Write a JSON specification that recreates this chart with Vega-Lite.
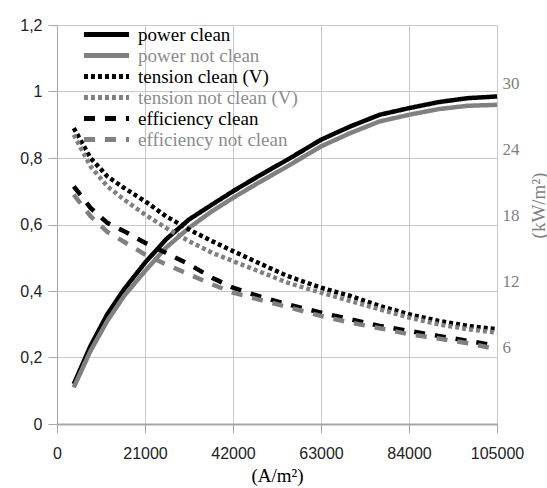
{
  "$schema": "https://vega.github.io/schema/vega-lite/v6.json",
  "width": 440,
  "height": 399,
  "autosize": {"type": "none"},
  "padding": {"left": 57, "top": 25, "right": 50, "bottom": 64},
  "background": "white",
  "config": {"view": {"stroke": null}},
  "layer": [
    {
      "data": {"values": [
        {"x": 4000, "series": "power clean", "y": 0.12},
        {"x": 8000, "series": "power clean", "y": 0.235},
        {"x": 12000, "series": "power clean", "y": 0.33},
        {"x": 16000, "series": "power clean", "y": 0.405},
        {"x": 21000, "series": "power clean", "y": 0.485},
        {"x": 26000, "series": "power clean", "y": 0.555},
        {"x": 31500, "series": "power clean", "y": 0.615},
        {"x": 37000, "series": "power clean", "y": 0.66},
        {"x": 42000, "series": "power clean", "y": 0.7},
        {"x": 48000, "series": "power clean", "y": 0.745},
        {"x": 55000, "series": "power clean", "y": 0.795},
        {"x": 63000, "series": "power clean", "y": 0.855},
        {"x": 70000, "series": "power clean", "y": 0.895},
        {"x": 77000, "series": "power clean", "y": 0.93},
        {"x": 84000, "series": "power clean", "y": 0.95},
        {"x": 91000, "series": "power clean", "y": 0.968},
        {"x": 98000, "series": "power clean", "y": 0.98},
        {"x": 105000, "series": "power clean", "y": 0.985},

        {"x": 4000, "series": "power not clean", "y": 0.11},
        {"x": 8000, "series": "power not clean", "y": 0.22},
        {"x": 12000, "series": "power not clean", "y": 0.31},
        {"x": 16000, "series": "power not clean", "y": 0.385},
        {"x": 21000, "series": "power not clean", "y": 0.46},
        {"x": 26000, "series": "power not clean", "y": 0.53},
        {"x": 31500, "series": "power not clean", "y": 0.59},
        {"x": 37000, "series": "power not clean", "y": 0.64},
        {"x": 42000, "series": "power not clean", "y": 0.68},
        {"x": 48000, "series": "power not clean", "y": 0.725},
        {"x": 55000, "series": "power not clean", "y": 0.775},
        {"x": 63000, "series": "power not clean", "y": 0.835},
        {"x": 70000, "series": "power not clean", "y": 0.875},
        {"x": 77000, "series": "power not clean", "y": 0.91},
        {"x": 84000, "series": "power not clean", "y": 0.93},
        {"x": 91000, "series": "power not clean", "y": 0.947},
        {"x": 98000, "series": "power not clean", "y": 0.957},
        {"x": 105000, "series": "power not clean", "y": 0.96},

        {"x": 4000, "series": "tension clean (V)", "y": 0.89},
        {"x": 8000, "series": "tension clean (V)", "y": 0.8},
        {"x": 12000, "series": "tension clean (V)", "y": 0.745},
        {"x": 16000, "series": "tension clean (V)", "y": 0.71},
        {"x": 21000, "series": "tension clean (V)", "y": 0.67},
        {"x": 26000, "series": "tension clean (V)", "y": 0.625},
        {"x": 31500, "series": "tension clean (V)", "y": 0.585},
        {"x": 37000, "series": "tension clean (V)", "y": 0.55},
        {"x": 42000, "series": "tension clean (V)", "y": 0.52},
        {"x": 48000, "series": "tension clean (V)", "y": 0.485},
        {"x": 55000, "series": "tension clean (V)", "y": 0.445},
        {"x": 63000, "series": "tension clean (V)", "y": 0.41},
        {"x": 70000, "series": "tension clean (V)", "y": 0.385},
        {"x": 77000, "series": "tension clean (V)", "y": 0.355},
        {"x": 84000, "series": "tension clean (V)", "y": 0.33},
        {"x": 91000, "series": "tension clean (V)", "y": 0.31},
        {"x": 98000, "series": "tension clean (V)", "y": 0.295},
        {"x": 105000, "series": "tension clean (V)", "y": 0.285},

        {"x": 4000, "series": "tension not clean (V)", "y": 0.87},
        {"x": 8000, "series": "tension not clean (V)", "y": 0.775},
        {"x": 12000, "series": "tension not clean (V)", "y": 0.715},
        {"x": 16000, "series": "tension not clean (V)", "y": 0.675},
        {"x": 21000, "series": "tension not clean (V)", "y": 0.63},
        {"x": 26000, "series": "tension not clean (V)", "y": 0.59},
        {"x": 31500, "series": "tension not clean (V)", "y": 0.55},
        {"x": 37000, "series": "tension not clean (V)", "y": 0.515},
        {"x": 42000, "series": "tension not clean (V)", "y": 0.49},
        {"x": 48000, "series": "tension not clean (V)", "y": 0.46},
        {"x": 55000, "series": "tension not clean (V)", "y": 0.425},
        {"x": 63000, "series": "tension not clean (V)", "y": 0.395},
        {"x": 70000, "series": "tension not clean (V)", "y": 0.37},
        {"x": 77000, "series": "tension not clean (V)", "y": 0.345},
        {"x": 84000, "series": "tension not clean (V)", "y": 0.32},
        {"x": 91000, "series": "tension not clean (V)", "y": 0.3},
        {"x": 98000, "series": "tension not clean (V)", "y": 0.285},
        {"x": 105000, "series": "tension not clean (V)", "y": 0.275},

        {"x": 4000, "series": "efficiency clean", "y": 0.715},
        {"x": 8000, "series": "efficiency clean", "y": 0.65},
        {"x": 12000, "series": "efficiency clean", "y": 0.605},
        {"x": 16000, "series": "efficiency clean", "y": 0.58},
        {"x": 21000, "series": "efficiency clean", "y": 0.545},
        {"x": 26000, "series": "efficiency clean", "y": 0.515},
        {"x": 31500, "series": "efficiency clean", "y": 0.48},
        {"x": 37000, "series": "efficiency clean", "y": 0.44},
        {"x": 42000, "series": "efficiency clean", "y": 0.41},
        {"x": 48000, "series": "efficiency clean", "y": 0.385},
        {"x": 55000, "series": "efficiency clean", "y": 0.36},
        {"x": 63000, "series": "efficiency clean", "y": 0.335},
        {"x": 70000, "series": "efficiency clean", "y": 0.315},
        {"x": 77000, "series": "efficiency clean", "y": 0.295},
        {"x": 84000, "series": "efficiency clean", "y": 0.28},
        {"x": 91000, "series": "efficiency clean", "y": 0.265},
        {"x": 98000, "series": "efficiency clean", "y": 0.25},
        {"x": 105000, "series": "efficiency clean", "y": 0.235},

        {"x": 4000, "series": "efficiency not clean", "y": 0.69},
        {"x": 8000, "series": "efficiency not clean", "y": 0.625},
        {"x": 12000, "series": "efficiency not clean", "y": 0.578},
        {"x": 16000, "series": "efficiency not clean", "y": 0.548},
        {"x": 21000, "series": "efficiency not clean", "y": 0.51},
        {"x": 26000, "series": "efficiency not clean", "y": 0.48},
        {"x": 31500, "series": "efficiency not clean", "y": 0.45},
        {"x": 37000, "series": "efficiency not clean", "y": 0.42},
        {"x": 42000, "series": "efficiency not clean", "y": 0.395},
        {"x": 48000, "series": "efficiency not clean", "y": 0.375},
        {"x": 55000, "series": "efficiency not clean", "y": 0.352},
        {"x": 63000, "series": "efficiency not clean", "y": 0.325},
        {"x": 70000, "series": "efficiency not clean", "y": 0.305},
        {"x": 77000, "series": "efficiency not clean", "y": 0.288},
        {"x": 84000, "series": "efficiency not clean", "y": 0.27},
        {"x": 91000, "series": "efficiency not clean", "y": 0.257},
        {"x": 98000, "series": "efficiency not clean", "y": 0.243},
        {"x": 105000, "series": "efficiency not clean", "y": 0.225}
      ]},
      "mark": {"type": "line", "strokeWidth": 4.5},
      "encoding": {
        "x": {
          "field": "x", "type": "quantitative",
          "scale": {"domain": [0, 105000], "nice": false},
          "axis": {
            "values": [0, 21000, 42000, 63000, 84000, 105000],
            "format": "d",
            "title": "(A/m²)",
            "titleFont": "Liberation Serif", "titleFontSize": 19, "titleFontWeight": "normal", "titleColor": "#000000", "titlePadding": 5,
            "labelFont": "Liberation Sans", "labelFontSize": 16, "labelColor": "#222222", "labelPadding": 12, "labelFlush": false, "labelOverlap": false,
            "tickSize": 9, "tickColor": "#a6a6a6", "domainColor": "#a6a6a6", "domainWidth": 2,
            "grid": true, "gridColor": "#c8c8c8"
          }
        },
        "y": {
          "field": "y", "type": "quantitative",
          "scale": {"domain": [0, 1.2], "nice": false},
          "axis": {
            "values": [0, 0.2, 0.4, 0.6, 0.8, 1, 1.2],
            "labelExpr": "replace(format(datum.value, '.1~f'), '.', ',')",
            "title": null,
            "labelFont": "Liberation Sans", "labelFontSize": 16, "labelColor": "#222222", "labelPadding": 6,
            "tickSize": 9, "tickColor": "#a6a6a6", "domainColor": "#a6a6a6",
            "grid": true, "gridColor": "#c8c8c8"
          }
        },
        "color": {
          "field": "series", "type": "nominal",
          "scale": {
            "domain": ["power clean", "power not clean", "tension clean (V)", "tension not clean (V)", "efficiency clean", "efficiency not clean"],
            "range": ["#000000", "#808080", "#000000", "#808080", "#000000", "#808080"]
          },
          "legend": {
            "orient": "none", "legendX": 26, "legendY": 0, "title": null, "padding": 0,
            "symbolType": "M-4,0H4", "symbolSize": 127, "symbolStrokeWidth": 5, "symbolOffset": 14,
            "labelOffset": 22, "labelFont": "Liberation Serif", "labelFontSize": 19, "labelLimit": 300,
            "rowPadding": 0,
            "encode": {"labels": {"update": {"fill": {"signal": "indexof(datum.label, 'not') >= 0 ? '#8c8c8c' : '#000000'"}}}}
          }
        },
        "strokeDash": {
          "field": "series", "type": "nominal",
          "scale": {
            "domain": ["power clean", "power not clean", "tension clean (V)", "tension not clean (V)", "efficiency clean", "efficiency not clean"],
            "range": [[1, 0], [1, 0], [4, 3], [4, 3], [11, 10], [11, 10]]
          },
          "legend": {
            "orient": "none", "legendX": 26, "legendY": 0, "title": null, "padding": 0,
            "symbolType": "M-4,0H4", "symbolSize": 127, "symbolStrokeWidth": 5, "symbolOffset": 14,
            "labelOffset": 22, "labelFont": "Liberation Serif", "labelFontSize": 19, "labelLimit": 300,
            "rowPadding": 0,
            "encode": {"labels": {"update": {"fill": {"signal": "indexof(datum.label, 'not') >= 0 ? '#8c8c8c' : '#000000'"}}}}
          }
        }
      }
    },
    {
      "data": {"values": [{"kw": 6}, {"kw": 12}, {"kw": 18}, {"kw": 24}, {"kw": 30}]},
      "mark": {"type": "point", "opacity": 0},
      "encoding": {
        "y": {
          "field": "kw", "type": "quantitative",
          "scale": {"domain": [-0.91, 35.36], "nice": false, "zero": false},
          "axis": {
            "orient": "right",
            "values": [6, 12, 18, 24, 30],
            "title": "(kW/m²)",
            "titleAngle": 270,
            "titleX": 41, "titleY": 180,
            "titleAlign": "center", "titleBaseline": "middle",
            "titleFont": "Liberation Serif", "titleFontSize": 19, "titleFontWeight": "normal", "titleColor": "#808080",
            "labelFont": "Liberation Serif", "labelFontSize": 17, "labelColor": "#808080", "labelPadding": 5,
            "ticks": false, "domain": false, "grid": false
          }
        }
      }
    }
  ],
  "resolve": {"scale": {"y": "independent"}}
}
